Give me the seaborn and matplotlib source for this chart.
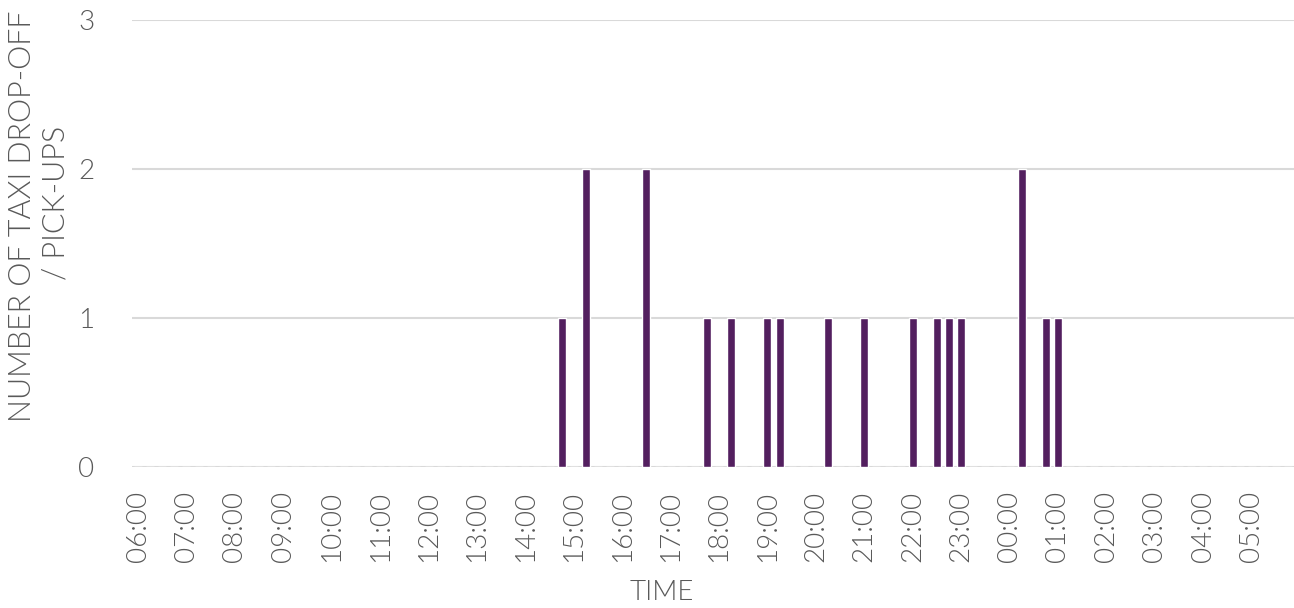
import matplotlib
matplotlib.use("Agg")
import matplotlib.pyplot as plt
import seaborn as sns
import pandas as pd

# Hour labels along the time axis (06:00 through 05:00 next day)
hour_labels = ["06:00", "07:00", "08:00", "09:00", "10:00", "11:00", "12:00",
               "13:00", "14:00", "15:00", "16:00", "17:00", "18:00", "19:00",
               "20:00", "21:00", "22:00", "23:00", "00:00", "01:00", "02:00",
               "03:00", "04:00", "05:00"]

# 15-minute bins with at least one taxi drop-off / pick-up
trip_times = ["14:45", "15:15", "16:30", "17:45", "18:15", "19:00", "19:15",
              "20:15", "21:00", "22:00", "22:30", "22:45", "23:00", "00:15",
              "00:45", "01:00"]
trip_counts = [1, 2, 2, 1, 1, 1, 1, 1, 1, 1, 1, 1, 1, 2, 1, 1]

y_title_lines = ["NUMBER OF TAXI DROP-OFF", "/ PICK-UPS"]

# Build the full day of 15-minute slots starting at 06:00
slots = []
for h in hour_labels:
    hh = h[:2]
    for mm in ("00", "15", "30", "45"):
        slots.append(f"{hh}:{mm}")
lookup = dict(zip(trip_times, trip_counts))
df = pd.DataFrame({"slot": slots, "count": [lookup.get(s, 0) for s in slots]})

sns.set_theme(style="white")
plt.rcParams["font.family"] = ["Lato", "DejaVu Sans"]

text_color = "#595959"
bar_color = "#531F5F"
font_w = 300
font_sz = 20

W, H = 1294, 608
fig = plt.figure(figsize=(W / 100, H / 100), dpi=100)
ax = fig.add_axes([132 / W, (H - 467) / H, 1 - 132 / W, (467 - 20) / H])

sns.barplot(data=df, x="slot", y="count", order=slots, color=bar_color,
            width=0.66, saturation=1, ax=ax, zorder=3)

ax.set_xlim(-0.5, len(slots) - 0.5)
ax.set_ylim(0, 3)
ax.set_yticks([0, 1, 2, 3])
ax.set_yticklabels(["0", "1", "2", "3"])
ax.set_xticks(range(0, len(slots), 4))
ax.set_xticklabels(hour_labels, rotation=90)

ax.grid(axis="y", color="#d9d9d9", linewidth=1.5, zorder=0)
ax.grid(axis="x", visible=False)
for s in ax.spines.values():
    s.set_visible(False)

ax.tick_params(axis="x", length=0, pad=17, labelsize=font_sz, labelcolor=text_color)
ax.tick_params(axis="y", length=0, pad=27, labelsize=font_sz, labelcolor=text_color)
for lbl in ax.get_xticklabels() + ax.get_yticklabels():
    lbl.set_fontweight(font_w)

ax.set_xlabel("")
ax.set_ylabel("")

fig.text(662 / W, (H - 592) / H, "TIME", ha="center", va="center",
         fontsize=font_sz, color=text_color, fontweight=font_w)

# Two-line vertical axis title
fig.text(23 / W, (H - 216) / H, y_title_lines[0], rotation=90,
         ha="center", va="center", fontsize=22, color=text_color, fontweight=font_w)
fig.text(56 / W, (H - 203) / H, y_title_lines[1], rotation=90,
         ha="center", va="center", fontsize=22, color=text_color, fontweight=font_w)

fig.savefig("out.png", dpi=100)
